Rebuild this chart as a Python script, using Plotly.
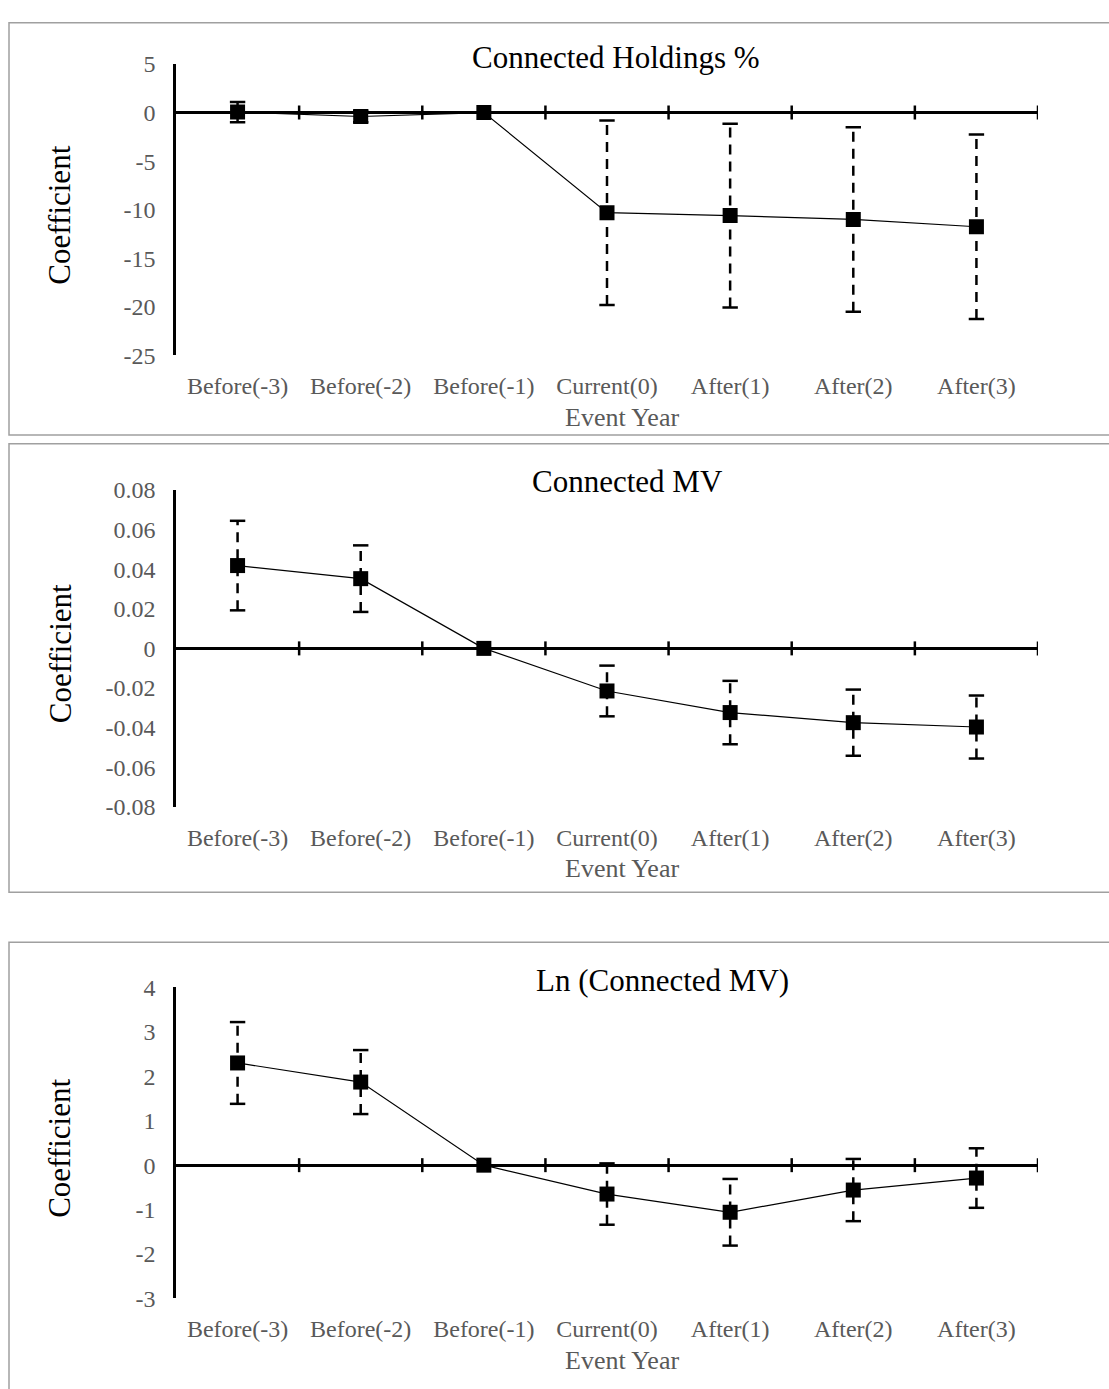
import plotly.graph_objects as go

# ---------------- data ----------------
categories = ["Before(-3)", "Before(-2)", "Before(-1)", "Current(0)", "After(1)", "After(2)", "After(3)"]

holdings_coef = [0.05, -0.4, 0.0, -10.3, -10.6, -11.0, -11.75]
holdings_err = [1.05, 0.6, 0.0, 9.5, 9.45, 9.5, 9.5]
holdings_ticks = [-25, -20, -15, -10, -5, 0, 5]
holdings_ticklabels = ["-25", "-20", "-15", "-10", "-5", "0", "5"]

mv_coef = [0.0418, 0.0352, 0.0, -0.0215, -0.0324, -0.0375, -0.0397]
mv_err = [0.0226, 0.0168, 0.0, 0.0128, 0.016, 0.0167, 0.0159]
mv_ticks = [-0.08, -0.06, -0.04, -0.02, 0, 0.02, 0.04, 0.06, 0.08]
mv_ticklabels = ["-0.08", "-0.06", "-0.04", "-0.02", "0", "0.02", "0.04", "0.06", "0.08"]

ln_coef = [2.30, 1.87, 0.0, -0.65, -1.06, -0.56, -0.29]
ln_err = [0.92, 0.72, 0.0, 0.69, 0.75, 0.70, 0.67]
ln_ticks = [-3, -2, -1, 0, 1, 2, 3, 4]
ln_ticklabels = ["-3", "-2", "-1", "0", "1", "2", "3", "4"]

titles = ["Connected Holdings %", "Connected MV", "Ln (Connected MV)"]
x_title = "Event Year"
y_title = "Coefficient"

# ---------------- layout geometry (pixels) ----------------
W, H = 1109, 1389
FONT = "Liberation Serif"
GRAY = "#595959"


def fx(p):
    return p / W


def fy(p):
    return 1 - p / H


panels = [
    dict(coef=holdings_coef, err=holdings_err, ticks=holdings_ticks, labels=holdings_ticklabels,
         yr=[-25, 5], top=52, bottom=349, title_xy=(616, 45), box=(10, 430)),
    dict(coef=mv_coef, err=mv_err, ticks=mv_ticks, labels=mv_ticklabels,
         yr=[-0.08, 0.08], top=486, bottom=809, title_xy=(627, 477), box=(439, 896)),
    dict(coef=ln_coef, err=ln_err, ticks=ln_ticks, labels=ln_ticklabels,
         yr=[-3, 4], top=993, bottom=1310, title_xy=(662, 986), box=(947, 1420)),
]

PLOT_L, PLOT_R = 176, 1038

fig = go.Figure()
shapes = []
annotations = []
layout_axes = {}

for k, p in enumerate(panels):
    n = k + 1
    xa = "x" if n == 1 else f"x{n}"
    ya = "y" if n == 1 else f"y{n}"
    xkey = "xaxis" if n == 1 else f"xaxis{n}"
    ykey = "yaxis" if n == 1 else f"yaxis{n}"

    # error bars (dashed stems + caps)
    ex, ey, cx, cy = [], [], [], []
    for c, v, e in zip(categories, p["coef"], p["err"]):
        if e > 0:
            ex += [c, c, None]
            ey += [v - e, v + e, None]
            cx += [c, c]
            cy += [v - e, v + e]
    fig.add_trace(go.Scatter(x=ex, y=ey, mode="lines", xaxis=xa, yaxis=ya,
                             line=dict(color="black", width=2.5, dash="10px,7px"),
                             showlegend=False, hoverinfo="skip"))
    fig.add_trace(go.Scatter(x=cx, y=cy, mode="markers", xaxis=xa, yaxis=ya,
                             marker=dict(symbol="line-ew", size=11, color="black",
                                         line=dict(color="black", width=2.5)),
                             showlegend=False, hoverinfo="skip"))
    # main series
    fig.add_trace(go.Scatter(x=categories, y=p["coef"], mode="lines+markers", xaxis=xa, yaxis=ya,
                             line=dict(color="black", width=1.2),
                             marker=dict(symbol="square", size=15, color="black"),
                             showlegend=False))

    layout_axes[xkey] = dict(
        domain=[fx(PLOT_L), fx(PLOT_R)], anchor=ya, type="category",
        categoryorder="array", categoryarray=categories,
        range=[-0.5, len(categories) - 0.5],
        showline=False, showgrid=False, zeroline=False, ticks="",
        ticklabelstandoff=14,
        tickfont=dict(family=FONT, size=24, color=GRAY),
    )
    layout_axes[ykey] = dict(
        domain=[fy(p["bottom"]), fy(p["top"])], anchor=xa, range=p["yr"],
        tickvals=p["ticks"], ticktext=p["labels"],
        showline=True, linecolor="black", linewidth=2.5,
        showgrid=False, zeroline=True, zerolinecolor="black", zerolinewidth=2.5,
        ticks="", ticklabelstandoff=13,
        tickfont=dict(family=FONT, size=24, color=GRAY),
    )

    # crossing tick marks on the zero line at category boundaries
    for i in range(len(categories)):
        shapes.append(dict(type="line", xref=xa, yref=ya, x0=i + 0.5, x1=i + 0.5,
                           ysizemode="pixel", yanchor=0, y0=-7, y1=7,
                           line=dict(color="black", width=2.5), layer="below"))

    # panel border
    shapes.append(dict(type="rect", xref="paper", yref="paper",
                       x0=fx(9), x1=fx(W + 20), y0=fy(p["box"][1]), y1=fy(p["box"][0]),
                       line=dict(color="#a0a0a0", width=1.5), fillcolor="rgba(0,0,0,0)"))

    # chart title
    annotations.append(dict(text=titles[k], xref="paper", yref="paper",
                            x=fx(p["title_xy"][0]), y=fy(p["title_xy"][1]),
                            xanchor="center", yanchor="middle", showarrow=False,
                            font=dict(family=FONT, size=31, color="black")))
    # axis titles
    annotations.append(dict(text=x_title, xref="paper", yref="paper",
                            x=fx(622), y=fy(p["bottom"] + 63),
                            xanchor="center", yanchor="middle", showarrow=False,
                            font=dict(family=FONT, size=26, color=GRAY)))
    annotations.append(dict(text=y_title, xref="paper", yref="paper",
                            x=fx(60), y=fy((p["top"] + p["bottom"]) / 2 + 6),
                            xanchor="center", yanchor="middle", showarrow=False, textangle=-90,
                            font=dict(family=FONT, size=31, color="black")))

fig.update_layout(
    width=W, height=H,
    margin=dict(l=0, r=0, t=0, b=0),
    paper_bgcolor="white", plot_bgcolor="white",
    shapes=shapes, annotations=annotations,
    font=dict(family=FONT),
    **layout_axes,
)

fig.write_html("out.html",
               config={"displayModeBar": False},
               post_script="document.body.style.margin='0';document.body.style.overflow='hidden';")
